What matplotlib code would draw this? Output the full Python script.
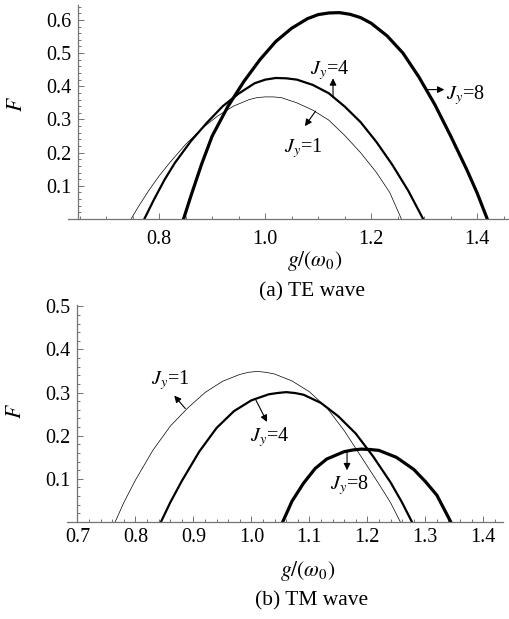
import matplotlib
matplotlib.use("Agg")
import matplotlib.pyplot as plt
from matplotlib.ticker import MultipleLocator, FixedLocator

plt.rcParams['font.family'] = ['Liberation Serif', 'DejaVu Serif']
plt.rcParams['mathtext.fontset'] = 'stix'
plt.rcParams['font.size'] = 14.5

# ---- (a) TE wave: F against g/(omega_0) ----
te_j1_x = [0.747, 0.76, 0.78, 0.80, 0.82, 0.85, 0.88, 0.91, 0.94, 0.97, 0.985, 1.00, 1.015, 1.03,
           1.06, 1.09, 1.12, 1.15, 1.18, 1.21, 1.235, 1.257]
te_j1_f = [0.0, 0.035, 0.085, 0.130, 0.170, 0.225, 0.272, 0.310, 0.340, 0.360, 0.366, 0.368, 0.368, 0.366,
           0.350, 0.328, 0.298, 0.252, 0.200, 0.140, 0.080, 0.0]

te_j4_x = [0.772, 0.79, 0.81, 0.83, 0.86, 0.89, 0.92, 0.95, 0.98, 1.00, 1.02, 1.04, 1.06,
           1.09, 1.12, 1.15, 1.18, 1.21, 1.24, 1.27, 1.298]
te_j4_f = [0.0, 0.058, 0.118, 0.170, 0.235, 0.290, 0.340, 0.378, 0.409, 0.420, 0.425, 0.424, 0.420,
           0.404, 0.379, 0.339, 0.292, 0.232, 0.163, 0.085, 0.0]

te_j8_x = [0.846, 0.86, 0.88, 0.90, 0.93, 0.96, 0.99, 1.02, 1.05, 1.08, 1.10, 1.12, 1.14, 1.16,
           1.18, 1.20, 1.23, 1.26, 1.29, 1.32, 1.35, 1.38, 1.40, 1.419]
te_j8_f = [0.0, 0.070, 0.165, 0.250, 0.340, 0.415, 0.480, 0.535, 0.575, 0.604, 0.616, 0.621, 0.622, 0.617,
           0.607, 0.590, 0.552, 0.500, 0.428, 0.345, 0.250, 0.150, 0.078, 0.0]

# ---- (b) TM wave ----
tm_j1_x = [0.765, 0.78, 0.80, 0.83, 0.86, 0.89, 0.92, 0.95, 0.98, 0.995, 1.01, 1.025, 1.04, 1.07,
           1.10, 1.13, 1.16, 1.19, 1.22, 1.24, 1.257]
tm_j1_f = [0.0, 0.045, 0.097, 0.166, 0.222, 0.264, 0.300, 0.326, 0.342, 0.347, 0.349, 0.347, 0.343, 0.327,
           0.302, 0.265, 0.212, 0.150, 0.088, 0.045, 0.0]

tm_j4_x = [0.844, 0.86, 0.88, 0.91, 0.94, 0.97, 1.00, 1.03, 1.045, 1.06, 1.075, 1.09, 1.12, 1.15,
           1.18, 1.21, 1.24, 1.26, 1.277]
tm_j4_f = [0.0, 0.045, 0.095, 0.163, 0.218, 0.257, 0.282, 0.296, 0.299, 0.301, 0.299, 0.295, 0.276, 0.245,
           0.205, 0.152, 0.092, 0.045, 0.0]

tm_j8_x = [1.054, 1.07, 1.09, 1.11, 1.13, 1.16, 1.175, 1.19, 1.205, 1.22, 1.25, 1.28, 1.30, 1.32, 1.344]
tm_j8_f = [0.0, 0.048, 0.090, 0.124, 0.146, 0.163, 0.167, 0.169, 0.168, 0.166, 0.150, 0.122, 0.094, 0.062, 0.0]

te_xticks = [0.8, 1.0, 1.2, 1.4]
te_yticks = [0.1, 0.2, 0.3, 0.4, 0.5, 0.6]
tm_xticks = [0.7, 0.8, 0.9, 1.0, 1.1, 1.2, 1.3, 1.4]
tm_yticks = [0.1, 0.2, 0.3, 0.4, 0.5]

axis_col = '0.45'
lab_size = 14.5
cap_size = 15.5
ax_lab_size = 15.5


def style_axes(ax, xlim, ylim, yaxis_at, xticks, yticks, xminor, yminor):
    ax.set_xlim(*xlim)
    ax.set_ylim(*ylim)
    for s in ['top', 'right']:
        ax.spines[s].set_visible(False)
    ax.spines['left'].set_position(('data', yaxis_at))
    ax.spines['bottom'].set_position(('data', 0))
    for s in ['left', 'bottom']:
        ax.spines[s].set_color(axis_col)
        ax.spines[s].set_linewidth(0.9)
    ax.xaxis.set_major_locator(FixedLocator(xticks))
    ax.yaxis.set_major_locator(FixedLocator(yticks))
    ax.xaxis.set_minor_locator(MultipleLocator(xminor))
    ax.yaxis.set_minor_locator(MultipleLocator(yminor))
    ax.set_xticklabels(['%.1f' % t for t in xticks])
    ax.set_yticklabels(['%.1f' % t for t in yticks])
    ax.tick_params(which='both', direction='in', color=axis_col, width=0.7)
    ax.tick_params(which='major', length=4)
    ax.tick_params(which='minor', length=2.2)
    ax.tick_params(axis='y', pad=5)


def arrow(ax, tail, head):
    ax.annotate('', xy=head, xytext=tail,
                arrowprops=dict(arrowstyle='-|>', color='k', lw=0.8,
                                mutation_scale=10, shrinkA=0, shrinkB=0))


fig = plt.figure(figsize=(5.10, 6.19), dpi=100)

# top panel
ax1 = fig.add_axes([68 / 510, 1 - 219 / 619, 441 / 510, 214 / 619])
ax1.plot(te_j1_x, te_j1_f, color='k', lw=0.5)
ax1.plot(te_j4_x, te_j4_f, color='k', lw=1.6, solid_joinstyle='round')
ax1.plot(te_j8_x, te_j8_f, color='k', lw=2.3, solid_joinstyle='round')
style_axes(ax1, (0.628, 1.46), (0, 0.645), 0.647, te_xticks, te_yticks, 0.05, 0.02)
ax1.tick_params(axis='x', pad=8)
ax1.set_xlabel(r'$g/(\omega_0)$', fontsize=ax_lab_size)
ax1.xaxis.set_label_coords(0.56, -0.14)
ax1.set_ylabel(r'$F$', fontsize=ax_lab_size)
ax1.yaxis.set_label_coords(-0.092, 0.537)

ax1.text(1.121, 0.449, r'$J_y$=4', ha='center', va='center', fontsize=lab_size)
arrow(ax1, (1.128, 0.368), (1.128, 0.424))
ax1.text(1.072, 0.215, r'$J_y$=1', ha='center', va='center', fontsize=lab_size)
arrow(ax1, (1.095, 0.325), (1.075, 0.28))
ax1.text(1.342, 0.373, r'$J_y$=8', ha='left', va='center', fontsize=lab_size)
arrow(ax1, (1.305, 0.39), (1.338, 0.39))

fig.text(312 / 510, 1 - 292 / 619, '(a) TE wave', ha='center', va='center', fontsize=cap_size)

# bottom panel
ax2 = fig.add_axes([67 / 510, 1 - 522 / 619, 436 / 510, 217 / 619])
ax2.plot(tm_j1_x, tm_j1_f, color='k', lw=0.5)
ax2.plot(tm_j4_x, tm_j4_f, color='k', lw=1.6, solid_joinstyle='round')
ax2.plot(tm_j8_x, tm_j8_f, color='k', lw=2.3, solid_joinstyle='round')
style_axes(ax2, (0.682, 1.434), (0, 0.503), 0.70, tm_xticks, tm_yticks, 0.02, 0.02)
ax2.tick_params(axis='x', pad=4)
ax2.set_xlabel(r'$g/(\omega_0)$', fontsize=ax_lab_size)
ax2.xaxis.set_label_coords(0.553, -0.17)
ax2.set_ylabel(r'$F$', fontsize=ax_lab_size)
ax2.yaxis.set_label_coords(-0.093, 0.51)

ax2.text(0.860, 0.328, r'$J_y$=1', ha='center', va='center', fontsize=lab_size)
arrow(ax2, (0.886, 0.263), (0.867, 0.293))
ax2.text(1.032, 0.196, r'$J_y$=4', ha='center', va='center', fontsize=lab_size)
arrow(ax2, (1.008, 0.282), (1.027, 0.232))
ax2.text(1.169, 0.085, r'$J_y$=8', ha='center', va='center', fontsize=lab_size)
arrow(ax2, (1.165, 0.162), (1.165, 0.12))

fig.text(312 / 510, 1 - 601 / 619, '(b) TM wave', ha='center', va='center', fontsize=cap_size)

fig.savefig('out.png', dpi=100)
